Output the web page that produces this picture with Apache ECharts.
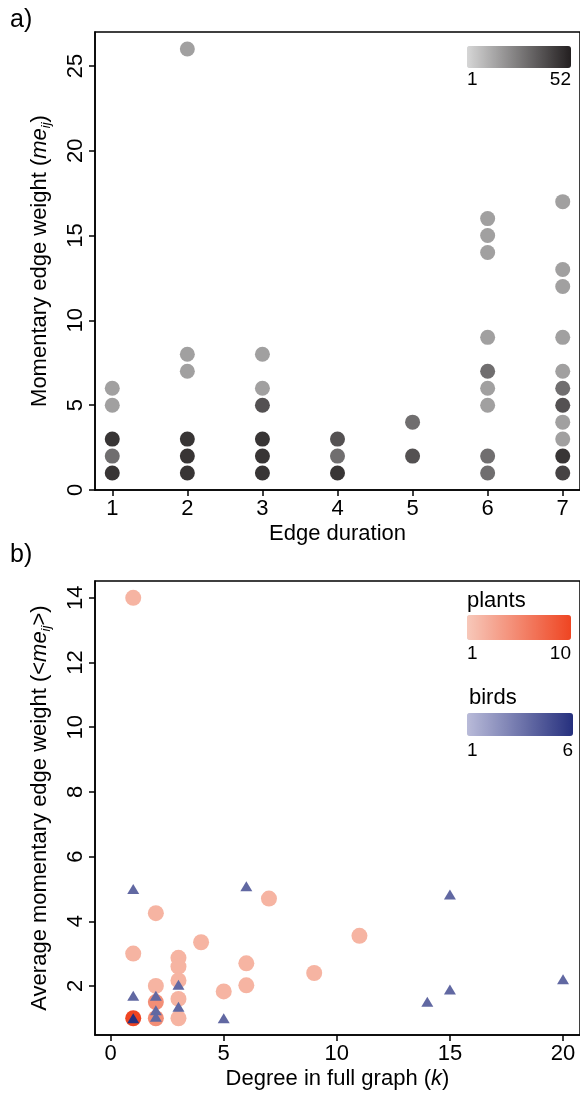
<!DOCTYPE html>
<html>
<head>
<meta charset="utf-8">
<script src="https://cdn.jsdelivr.net/npm/echarts@6/dist/echarts.min.js"></script>
<style>
html, body { margin: 0; padding: 0; background: #fff; }
#chartmain { width: 580px; height: 1093px; }
</style>
</head>
<body>
<div id="chartmain"></div>
<script>
// a) edge duration vs momentary edge weight, shade = number of edges
var durationX = [1,1,1,1,1, 2,2,2,2,2,2, 3,3,3,3,3,3, 4,4,4, 5,5, 6,6,6,6,6,6,6,6,6, 7,7,7,7,7,7,7,7,7,7,7];
var weightY   = [6,5,3,2,1, 26,8,7,3,2,1, 8,6,5,3,2,1, 3,2,1, 4,2, 16,15,14,9,7,6,5,2,1, 17,13,12,9,7,6,5,4,3,2,1];
var edgeCount = [16,16,46,30,46, 16,16,16,46,46,46, 16,16,38,46,46,46, 38,30,46, 30,38, 16,16,16,16,30,16,16,30,30, 16,16,16,16,16,30,38,16,16,46,42];
var countRange = [1, 52];
var durationTicks = [1, 2, 3, 4, 5, 6, 7];
var weightTicks = [0, 5, 10, 15, 20, 25];

// b) degree vs average momentary edge weight
var plantK = [1, 1, 1, 2, 2, 2, 2, 3, 3, 3, 3, 3, 4, 5, 6, 6, 7, 9, 11];
var plantW = [14, 3, 1, 4.25, 2, 1.5, 1, 2.87, 2.6, 2.17, 1.6, 1, 3.35, 1.83, 2.7, 2.02, 4.7, 2.4, 3.55];
var plantN = [2.4, 2.4, 10, 2.4, 2.4, 5, 5, 2.4, 2.4, 2.4, 2.4, 2.4, 2.4, 2.4, 2.4, 2.4, 2.4, 2.4, 2.4];
var plantRange = [1, 10];
var birdK = [1, 1, 1, 2, 2, 2, 3, 3, 5, 6, 14, 15, 15, 20];
var birdW = [5, 1.7, 1, 1.7, 1.25, 1.05, 2.04, 1.36, 1, 5.08, 1.51, 4.83, 1.89, 2.21];
var birdN = [4, 4, 6, 4, 4, 4, 4, 4, 4, 4, 4, 4, 4, 4];
var birdRange = [1, 6];
var degreeTicks = [0, 5, 10, 15, 20];
var avgTicks = [2, 4, 6, 8, 10, 12, 14];

var font = 'Liberation Sans, Arial, sans-serif';

function zip3(a, b, c) {
    var out = [];
    for (var i = 0; i < a.length; i++) out.push([a[i], b[i], c[i]]);
    return out;
}

var rich = {
    it: { fontStyle: 'italic', fontSize: 22, fontFamily: font, color: '#000', lineHeight: 26 },
    sub: { fontStyle: 'italic', fontSize: 13, fontFamily: font, color: '#000', lineHeight: 26, verticalAlign: 'bottom' }
};

function xAxisOf(idx, min, max, ticks, name, gap) {
    return {
        type: 'value', gridIndex: idx, min: min, max: max,
        name: name, nameLocation: 'middle', nameGap: gap,
        nameTextStyle: { fontSize: 22, fontFamily: font, color: '#000', lineHeight: 26, rich: rich },
        axisLine: { show: true, onZero: false, lineStyle: { color: '#000', width: 1.5 } },
        axisTick: { show: true, length: 6, customValues: ticks, lineStyle: { color: '#000', width: 1.5 } },
        axisLabel: { customValues: ticks, fontSize: 22, fontFamily: font, color: '#000', margin: 8 },
        splitLine: { show: false }
    };
}

function yAxisOf(idx, min, max, ticks, name, gap) {
    return {
        type: 'value', gridIndex: idx, min: min, max: max,
        name: name, nameLocation: 'middle', nameGap: gap,
        nameTextStyle: { fontSize: 22, fontFamily: font, color: '#000', lineHeight: 26, rich: rich },
        axisLine: { show: true, onZero: false, lineStyle: { color: '#000', width: 1.5 } },
        axisTick: { show: true, length: 6, customValues: ticks, lineStyle: { color: '#000', width: 1.5 } },
        axisLabel: { customValues: ticks, rotate: 90, fontSize: 22, fontFamily: font, color: '#000', margin: 8 },
        splitLine: { show: false }
    };
}

var myChart = echarts.init(document.getElementById('chartmain'));

var option = {
    backgroundColor: '#fff',
    animation: false,
    grid: [
        { left: 95, right: -3, top: 32, height: 458, show: true, borderColor: '#000', borderWidth: 1.5 },
        { left: 95, right: -2, top: 581, height: 457, show: true, borderColor: '#000', borderWidth: 1.5 }
    ],
    xAxis: [
        xAxisOf(0, 0.77, 7.23, durationTicks, 'Edge duration', 30),
        xAxisOf(1, -0.69, 20.75, degreeTicks, 'Degree in full graph ({it|k})', 30)
    ],
    yAxis: [
        yAxisOf(0, 0, 27, weightTicks, 'Momentary edge weight ({it|me}{sub|ij})', 42),
        yAxisOf(1, 0.48, 14.52, avgTicks, 'Average momentary edge weight (<{it|me}{sub|ij}>)', 42)
    ],
    visualMap: [
        {
            type: 'continuous', seriesIndex: 0, dimension: 2,
            min: countRange[0], max: countRange[1],
            orient: 'horizontal', left: 467, top: 46, padding: 0,
            itemWidth: 22, itemHeight: 104, calculable: false, text: null,
            inRange: { color: ['#d6d6d6', '#231f20'] }
        },
        {
            type: 'continuous', seriesIndex: 1, dimension: 2,
            min: plantRange[0], max: plantRange[1],
            orient: 'horizontal', left: 467, top: 615, padding: 0,
            itemWidth: 25, itemHeight: 104, calculable: false, text: null,
            inRange: { color: ['#f7c8ba', '#ef4522'] }
        },
        {
            type: 'continuous', seriesIndex: 2, dimension: 2,
            min: birdRange[0], max: birdRange[1],
            orient: 'horizontal', left: 467, top: 713, padding: 0,
            itemWidth: 23, itemHeight: 106, calculable: false, text: null,
            inRange: { color: ['#b9bbd9', '#26307e'] }
        }
    ],
    graphic: [
        { type: 'text', left: 10, top: 8, style: { text: 'a)', fontSize: 25, fontFamily: font, fill: '#000' } },
        { type: 'text', left: 10, top: 543, style: { text: 'b)', fontSize: 25, fontFamily: font, fill: '#000' } },
        { type: 'text', left: 467, top: 70, style: { text: String(countRange[0]), fontSize: 19, fontFamily: font, fill: '#000' } },
        { type: 'text', right: 9, top: 70, style: { text: String(countRange[1]), fontSize: 19, fontFamily: font, fill: '#000' } },
        { type: 'text', left: 467, top: 590, style: { text: 'plants', fontSize: 22, fontFamily: font, fill: '#000' } },
        { type: 'text', left: 467, top: 644, style: { text: String(plantRange[0]), fontSize: 19, fontFamily: font, fill: '#000' } },
        { type: 'text', right: 9, top: 644, style: { text: String(plantRange[1]), fontSize: 19, fontFamily: font, fill: '#000' } },
        { type: 'text', left: 469, top: 687, style: { text: 'birds', fontSize: 22, fontFamily: font, fill: '#000' } },
        { type: 'text', left: 467, top: 741, style: { text: String(birdRange[0]), fontSize: 19, fontFamily: font, fill: '#000' } },
        { type: 'text', right: 7, top: 741, style: { text: String(birdRange[1]), fontSize: 19, fontFamily: font, fill: '#000' } }
    ],
    series: [
        {
            name: 'edges', type: 'scatter', xAxisIndex: 0, yAxisIndex: 0,
            symbol: 'circle', symbolSize: 15,
            itemStyle: { opacity: 1 },
            data: zip3(durationX, weightY, edgeCount)
        },
        {
            name: 'plants', type: 'scatter', xAxisIndex: 1, yAxisIndex: 1,
            symbol: 'circle', symbolSize: 16,
            itemStyle: { opacity: 1 },
            data: zip3(plantK, plantW, plantN)
        },
        {
            name: 'birds', type: 'scatter', xAxisIndex: 1, yAxisIndex: 1,
            symbol: 'triangle', symbolSize: [12, 10],
            itemStyle: { opacity: 1 },
            data: zip3(birdK, birdW, birdN)
        }
    ]
};

myChart.setOption(option);
</script>
</body>
</html>
